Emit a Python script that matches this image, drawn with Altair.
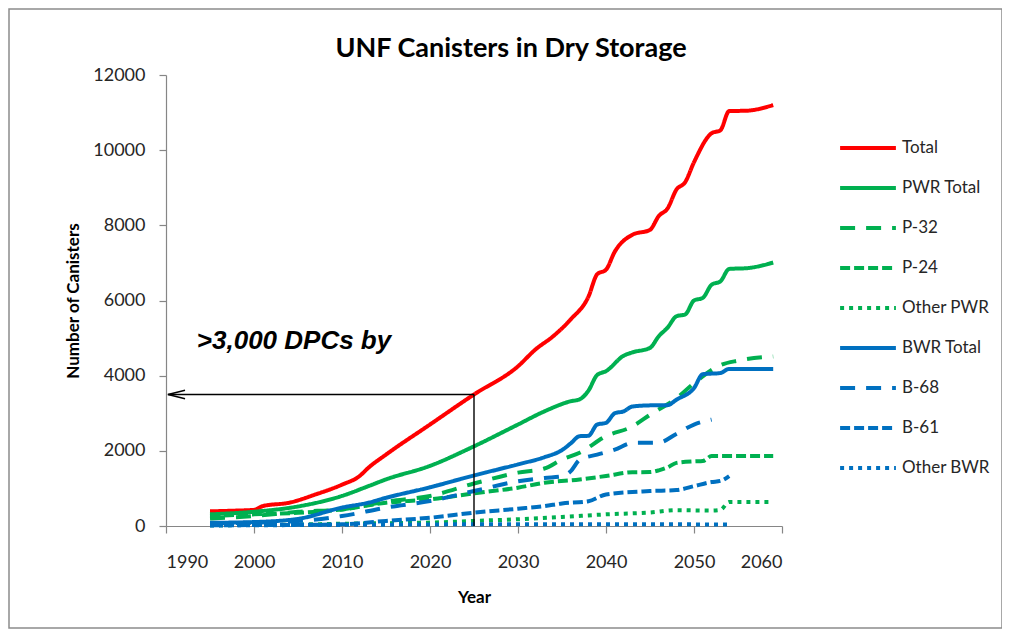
import altair as alt
import pandas as pd

# ---------------- data ----------------
series_names = ["Total", "PWR Total", "P-32", "P-24", "Other PWR",
                "BWR Total", "B-68", "B-61", "Other BWR"]
series_colors = ["#FF0000", "#00B050", "#00B050", "#00B050", "#00B050",
                 "#0070C0", "#0070C0", "#0070C0", "#0070C0"]
series_dashes = [[1, 0], [1, 0], [15, 11], [10, 4], [4, 5],
                 [1, 0], [15, 11], [10, 4], [4, 5]]

total_years = [1995, 1998, 2000, 2001, 2004, 2007, 2010, 2012, 2013, 2015, 2020, 2025,
               2030, 2032, 2034, 2036, 2038, 2039, 2040, 2041, 2043, 2045, 2046, 2047,
               2048, 2049, 2050, 2052, 2053, 2054, 2056, 2059]
total_vals = [390, 410, 430, 530, 620, 840, 1100, 1330, 1550, 1900, 2700, 3500,
              4250, 4700, 5050, 5500, 6100, 6700, 6820, 7300, 7750, 7880, 8250, 8450,
              8950, 9150, 9680, 10450, 10530, 11040, 11050, 11200]

pwr_years = [1995, 2000, 2005, 2010, 2013, 2015, 2020, 2025, 2030, 2033, 2036, 2037,
             2038, 2039, 2040, 2042, 2043, 2045, 2046, 2047, 2048, 2049, 2050, 2051,
             2052, 2053, 2054, 2056, 2059]
pwr_vals = [310, 380, 520, 800, 1060, 1240, 1600, 2120, 2700, 3050, 3320, 3370,
            3600, 4020, 4120, 4530, 4620, 4740, 5050, 5280, 5580, 5630, 6000, 6070,
            6420, 6510, 6840, 6860, 7010]

p32_years = [1995, 2000, 2005, 2010, 2015, 2020, 2025, 2030, 2033, 2035, 2037, 2040,
             2043, 2045, 2048, 2050, 2053, 2055, 2059]
p32_vals = [200, 265, 380, 440, 650, 800, 1130, 1420, 1530, 1770, 1950, 2390,
            2650, 2960, 3400, 3800, 4280, 4400, 4510]

p24_years = [1995, 2000, 2005, 2010, 2015, 2020, 2025, 2030, 2033, 2037, 2040, 2043,
             2045, 2046, 2047, 2048, 2050, 2051, 2052, 2059]
p24_vals = [265, 310, 350, 440, 620, 710, 870, 1020, 1150, 1240, 1330, 1430,
            1435, 1480, 1560, 1680, 1720, 1730, 1860, 1860]

opwr_years = [1995, 2005, 2010, 2015, 2020, 2025, 2030, 2035, 2040, 2045, 2048, 2052,
              2053, 2054, 2059]
opwr_vals = [20, 40, 60, 75, 90, 135, 180, 240, 310, 360, 420, 410, 430, 640, 640]

bwr_years = [1995, 2000, 2005, 2010, 2013, 2015, 2020, 2025, 2030, 2033, 2035, 2036,
             2037, 2038, 2039, 2040, 2041, 2042, 2043, 2045, 2047, 2048, 2050, 2051,
             2053, 2054, 2059]
bwr_vals = [85, 105, 190, 490, 620, 750, 1030, 1345, 1640, 1830, 2020, 2200,
            2390, 2400, 2700, 2745, 3000, 3050, 3180, 3210, 3215, 3360, 3670, 4040,
            4070, 4180, 4180]

b68_years = [1995, 2000, 2005, 2010, 2015, 2020, 2025, 2030, 2033, 2035, 2036, 2037,
             2039, 2041, 2043, 2046, 2048, 2050, 2052]
b68_vals = [70, 90, 130, 265, 490, 665, 930, 1190, 1280, 1320, 1460, 1760,
            1900, 2030, 2210, 2220, 2450, 2700, 2830]

b61_years = [1995, 2000, 2005, 2010, 2015, 2020, 2025, 2030, 2033, 2035, 2038, 2040,
             2045, 2048, 2050, 2052, 2053, 2054]
b61_vals = [20, 25, 30, 45, 135, 220, 355, 460, 530, 600, 660, 840,
            930, 955, 1060, 1170, 1200, 1330]

obwr_years = [1995, 2005, 2015, 2025, 2035, 2045, 2054]
obwr_vals = [15, 25, 35, 45, 45, 45, 40]

x_ticks = [1990, 2000, 2010, 2020, 2030, 2040, 2050, 2060]
y_ticks = [0, 2000, 4000, 6000, 8000, 10000, 12000]

chart_title = "UNF Canisters in Dry Storage"

# annotation (data coordinates)
anno_text = ">3,000 DPCs by"
anno_year, anno_value = 2025, 3500
anno_text_x, anno_text_y = 1993.5, 4710
anno_box = dict(x=1990.3, x2=2023.4, y=4356, y2=5525)
arrow_head_x = 1991.2

# ---------------- build table ----------------
series_data = [
    (series_names[0], total_years, total_vals),
    (series_names[1], pwr_years, pwr_vals),
    (series_names[2], p32_years, p32_vals),
    (series_names[3], p24_years, p24_vals),
    (series_names[4], opwr_years, opwr_vals),
    (series_names[5], bwr_years, bwr_vals),
    (series_names[6], b68_years, b68_vals),
    (series_names[7], b61_years, b61_vals),
    (series_names[8], obwr_years, obwr_vals),
]
rows = []
for name, ys, vs in series_data:
    for yr, v in zip(ys, vs):
        rows.append({"series": name, "year": yr, "value": v})
df = pd.DataFrame(rows)

FONT = "Lato"
TEXT_COLOR = "#262626"

x_scale = alt.Scale(domain=[1990, 2060], nice=False, zero=False)
y_scale = alt.Scale(domain=[0, 12000], nice=False)

legend = alt.Legend(
    title=None, orient="none", legendX=682, legendY=53,
    symbolType="M-1.55,0H1.55", symbolSize=1296, symbolStrokeWidth=4,
    labelFont=FONT, labelFontSize=17, labelColor=TEXT_COLOR,
    labelOffset=14, rowPadding=12, padding=0,
)

base = alt.Chart(df)

lines = base.mark_line(strokeWidth=4, interpolate="monotone").encode(
    x=alt.X("year:Q", scale=x_scale,
            axis=alt.Axis(values=x_ticks, format="d", title="Year",
                          labelPadding=20, titlePadding=18)),
    y=alt.Y("value:Q", scale=y_scale,
            axis=alt.Axis(values=y_ticks, format="d", title="Number of Canisters",
                          labelPadding=14, titlePadding=10)),
    color=alt.Color("series:N", scale=alt.Scale(domain=series_names, range=series_colors),
                    legend=legend),
    strokeDash=alt.StrokeDash("series:N",
                              scale=alt.Scale(domain=series_names, range=series_dashes),
                              legend=legend),
    order=alt.Order("year:Q"),
)

one = pd.DataFrame({"k": [0]})

box = alt.Chart(one).mark_rect(fill="white", stroke=None).encode(
    x=alt.datum(anno_box["x"], scale=x_scale),
    x2=alt.datum(anno_box["x2"]),
    y=alt.datum(anno_box["y"], scale=y_scale),
    y2=alt.datum(anno_box["y2"]),
)

text = alt.Chart(one).mark_text(
    text=anno_text, font="Liberation Sans", fontSize=26, fontWeight="bold",
    fontStyle="italic", align="left", baseline="alphabetic", color="black",
).encode(
    x=alt.datum(anno_text_x, scale=x_scale),
    y=alt.datum(anno_text_y, scale=y_scale),
)

hrule = alt.Chart(one).mark_rule(color="black", strokeWidth=1.4).encode(
    x=alt.datum(anno_year, scale=x_scale),
    x2=alt.datum(1990.2),
    y=alt.datum(anno_value, scale=y_scale),
)
vrule = alt.Chart(one).mark_rule(color="black", strokeWidth=1.4).encode(
    x=alt.datum(anno_year, scale=x_scale),
    y=alt.datum(0, scale=y_scale),
    y2=alt.datum(anno_value),
)
head = alt.Chart(one).mark_point(
    shape="M1,-0.5L-1,0L1,0.5", filled=False, size=289,
    stroke="black", strokeWidth=1.4, opacity=1,
).encode(
    x=alt.datum(arrow_head_x, scale=x_scale),
    y=alt.datum(anno_value, scale=y_scale),
)

frame = alt.Chart(one).mark_rect(fill="white", fillOpacity=0, stroke="#8c8c8c",
                                 strokeWidth=1.5).encode(
    x=alt.value(-157), x2=alt.value(836), y=alt.value(-66), y2=alt.value(553),
)

title = alt.Chart(one).mark_text(
    text=chart_title, font=FONT, fontSize=27, fontWeight="bold", color="black",
    align="center", baseline="alphabetic",
).encode(x=alt.value(345), y=alt.value(-18))

chart = alt.layer(box, lines, text, hrule, vrule, head, frame, title).properties(
    width=616, height=451,
    padding={"left": 158, "top": 67, "right": 220, "bottom": 105},
    autosize=alt.AutoSizeParams(type="none"),
    background="white",
).configure_view(stroke=None).configure_axis(
    labelFont=FONT, labelFontSize=18, labelColor=TEXT_COLOR,
    titleFont=FONT, titleFontSize=17, titleFontWeight="bold", titleColor="black",
    gridColor="#d9d9d9", gridWidth=1, domainColor="#868686", domainWidth=1.2,
    tickColor="#868686", tickSize=7, tickWidth=1.2,
)

chart.save("out.html", embed_options={"renderer": "svg", "actions": False})
